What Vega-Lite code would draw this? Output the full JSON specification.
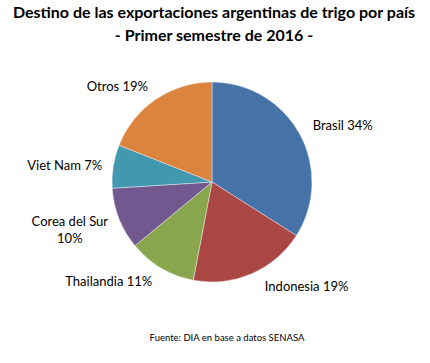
{
  "$schema": "https://vega.github.io/schema/vega-lite/v6.json",
  "padding": {"top": 5, "left": 0, "right": 0, "bottom": 0},
  "background": "white",
  "title": {
    "text": ["Destino de las exportaciones argentinas de trigo por país", "- Primer semestre de 2016 -"],
    "font": "Lato", "fontSize": 16, "fontWeight": "bold", "color": "#000000",
    "lineHeight": 23, "anchor": "middle", "offset": 24, "dx": 2
  },
  "spacing": 0,
  "config": {"view": {"stroke": null}},
  "vconcat": [
    {
      "width": 424,
      "height": 228,
      "title": {
        "text": "Fuente: DIA en base a datos SENASA",
        "orient": "bottom", "font": "Lato", "fontSize": 9.5, "fontWeight": "normal",
        "color": "#000000", "anchor": "middle", "offset": 37, "dx": 15
      },
      "data": {
        "values": [
          {"pais": "Brasil", "pct": 34, "i": 1, "label": "Brasil 34%"},
          {"pais": "Indonesia", "pct": 19, "i": 2, "label": "Indonesia 19%"},
          {"pais": "Thailandia", "pct": 11, "i": 3, "label": "Thailandia 11%"},
          {"pais": "Corea del Sur", "pct": 10, "i": 4, "label": "Corea del Sur\n10%"},
          {"pais": "Viet Nam", "pct": 7, "i": 5, "label": "Viet Nam 7%"},
          {"pais": "Otros", "pct": 19, "i": 6, "label": "Otros 19%"}
        ]
      },
      "encoding": {
        "theta": {"field": "pct", "type": "quantitative", "stack": true},
        "order": {"field": "i", "type": "quantitative"}
      },
      "layer": [
        {
          "mark": {"type": "arc", "radius": 100, "stroke": "#ffffff", "strokeWidth": 0.4},
          "encoding": {
            "color": {
              "field": "pais", "type": "nominal", "legend": null,
              "scale": {
                "domain": ["Brasil", "Indonesia", "Thailandia", "Corea del Sur", "Viet Nam", "Otros"],
                "range": ["#4572A7", "#AA4643", "#89A54E", "#71588F", "#4198AF", "#DB843D"]
              }
            }
          }
        },
        {
          "mark": {"type": "text", "clip": true, "radius": 140, "font": "Lato", "fontSize": 13, "color": "#000000", "dx": 8, "dy": 11, "lineBreak": "\n"},
          "encoding": {"text": {"condition": {"test": "datum.pais === 'Brasil'", "field": "label"}, "value": ""}}
        },
        {
          "mark": {"type": "text", "clip": true, "radius": 140, "font": "Lato", "fontSize": 13, "color": "#000000", "dx": 39, "dy": -23, "lineBreak": "\n"},
          "encoding": {"text": {"condition": {"test": "datum.pais === 'Indonesia'", "field": "label"}, "value": ""}}
        },
        {
          "mark": {"type": "text", "clip": true, "radius": 140, "font": "Lato", "fontSize": 13, "color": "#000000", "dx": -32, "dy": -21, "lineBreak": "\n"},
          "encoding": {"text": {"condition": {"test": "datum.pais === 'Thailandia'", "field": "label"}, "value": ""}}
        },
        {
          "mark": {"type": "text", "clip": true, "radius": 140, "font": "Lato", "fontSize": 13, "color": "#000000", "dx": -12, "dy": -12, "lineBreak": "\n", "lineHeight": 17},
          "encoding": {"text": {"condition": {"test": "datum.pais === 'Corea del Sur'", "field": "label"}, "value": ""}}
        },
        {
          "mark": {"type": "text", "clip": true, "radius": 140, "font": "Lato", "fontSize": 13, "color": "#000000", "dx": -9, "dy": 6, "lineBreak": "\n"},
          "encoding": {"text": {"condition": {"test": "datum.pais === 'Viet Nam'", "field": "label"}, "value": ""}}
        },
        {
          "mark": {"type": "text", "clip": true, "radius": 140, "font": "Lato", "fontSize": 13, "color": "#000000", "dx": -16, "dy": 21, "lineBreak": "\n"},
          "encoding": {"text": {"condition": {"test": "datum.pais === 'Otros'", "field": "label"}, "value": ""}}
        }
      ]
    }
  ]
}
